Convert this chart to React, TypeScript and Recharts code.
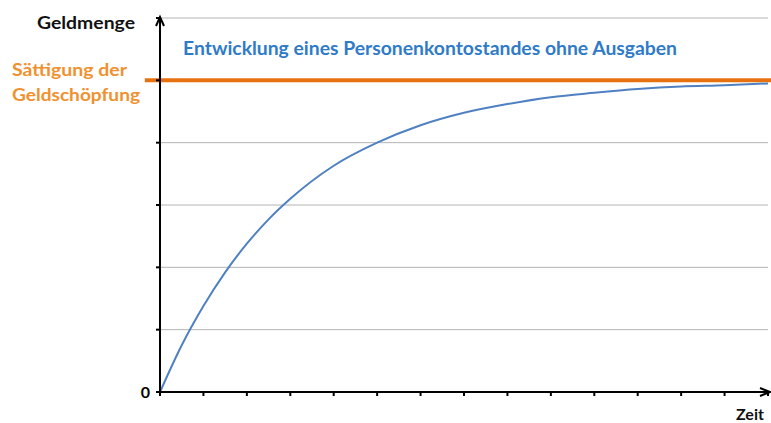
import React from 'react';
import { LineChart, Line, XAxis, YAxis, CartesianGrid, ReferenceLine, ReferenceDot } from 'recharts';

// time steps (x) and account balance (y)
const zeitPunkte = [0, 0.5, 1, 1.5, 2, 2.5, 3, 4, 5, 6, 7, 8, 9, 10, 11, 12, 13, 14];
const kontostand = [0, 0.75, 1.38, 1.92, 2.38, 2.77, 3.1, 3.63, 4.0, 4.28, 4.48, 4.62, 4.73, 4.8, 4.86, 4.9, 4.92, 4.95];
const saettigung = 5;
const xTicks = [0, 1, 2, 3, 4, 5, 6, 7, 8, 9, 10, 11, 12, 13, 14];
const yTicks = [0, 1, 2, 3, 4, 5, 6];

const chartData = zeitPunkte.map((t, i) => ({ t, wert: kontostand[i] }));

const FONT = 'Lato, "Open Sans", sans-serif';

const ArrowUp = (props: any) => {
    const { cx, cy } = props;
    return <path d={`M${cx - 4},${cy + 8} L${cx},${cy - 1} L${cx + 4},${cy + 8}`} fill="none" stroke="#000" strokeWidth={2} />;
};

const ArrowRight = (props: any) => {
    const { cx, cy } = props;
    return <path d={`M${cx - 8},${cy - 4} L${cx + 2},${cy} L${cx - 8},${cy + 4}`} fill="none" stroke="#000" strokeWidth={2} />;
};

const App: React.FC = () => {
    return (
        <div style={{ position: 'absolute', left: 0, top: 0, width: 771, height: 423, background: '#fff', overflow: 'hidden' }}>
            <LineChart width={771} height={423} data={chartData} margin={{ top: 18, right: 3, left: 0, bottom: 0 }}>
                <CartesianGrid vertical={false} stroke="#b4b4b4" strokeWidth={1} />
                <XAxis
                    dataKey="t"
                    type="number"
                    domain={[0, 14]}
                    ticks={xTicks}
                    height={31}
                    tickSize={4}
                    tickFormatter={() => ''}
                    axisLine={{ stroke: '#000', strokeWidth: 2 }}
                    tickLine={{ stroke: '#000', strokeWidth: 2 }}
                />
                <YAxis
                    type="number"
                    domain={[0, 6]}
                    ticks={yTicks}
                    width={160}
                    tickSize={4}
                    tickMargin={6}
                    tickFormatter={(v: number) => (v === 0 ? '0' : '')}
                    tick={{ fill: '#000', fontFamily: FONT, fontWeight: 700, fontSize: 16 }}
                    axisLine={{ stroke: '#000', strokeWidth: 2 }}
                    tickLine={{ stroke: '#000', strokeWidth: 2 }}
                />
                <ReferenceLine
                    segment={[{ x: -0.35, y: saettigung }, { x: 14.1, y: saettigung }]}
                    stroke="#e8710f"
                    strokeWidth={4}
                    ifOverflow="visible"
                />
                <Line
                    type="monotone"
                    dataKey="wert"
                    stroke="#4f81c2"
                    strokeWidth={2}
                    dot={false}
                    isAnimationActive={false}
                />
                <ReferenceDot x={0} y={6} r={0} ifOverflow="visible" shape={ArrowUp} />
                <ReferenceDot x={14} y={0} r={0} ifOverflow="visible" shape={ArrowRight} />
            </LineChart>
            <svg width={771} height={423} style={{ position: 'absolute', left: 0, top: 0, pointerEvents: 'none' }}>
                <g fontFamily={FONT} fontWeight={700}>
                    <text x={37} y={29} fontSize={16.5} fill="#111" textLength={98} lengthAdjust="spacingAndGlyphs">Geldmenge</text>
                    <text x={12} y={76} fontSize={16.5} fill="#f0912e" textLength={115} lengthAdjust="spacingAndGlyphs">Sättigung der</text>
                    <text x={12} y={101} fontSize={16.5} fill="#f0912e" textLength={128} lengthAdjust="spacingAndGlyphs">Geldschöpfung</text>
                    <text x={183} y={55} fontSize={18.5} fill="#2f7bc8" textLength={494} lengthAdjust="spacingAndGlyphs">Entwicklung eines Personenkontostandes ohne Ausgaben</text>
                    <text x={736} y={420} fontSize={16} fill="#111">Zeit</text>
                </g>
            </svg>
        </div>
    );
};

export default App;
